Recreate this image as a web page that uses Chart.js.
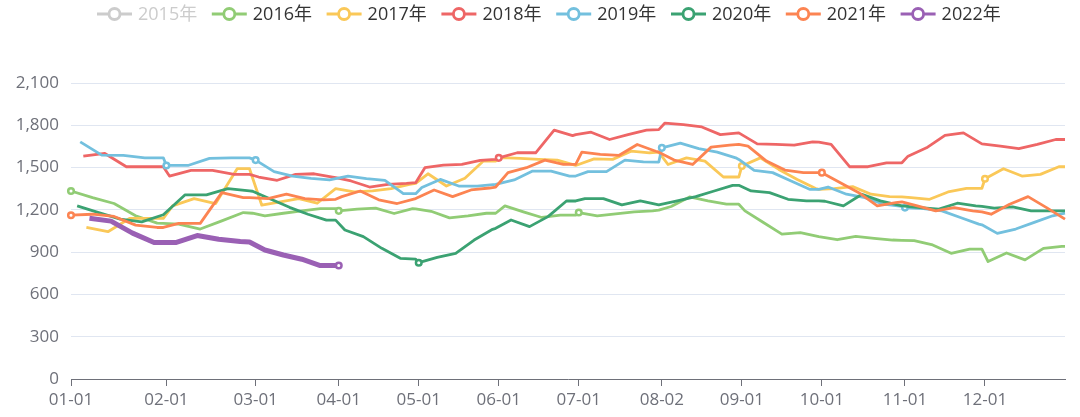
<!DOCTYPE html>
<html>
<head>
<meta charset="utf-8">
<script src="https://cdn.jsdelivr.net/npm/chart.js@4.4.1/dist/chart.umd.min.js"></script>
<style>
  html, body { margin: 0; padding: 0; background: #fff; }
  #wrap { width: 1080px; height: 417px; }
</style>
</head>
<body>
<div id="wrap"><canvas id="priceChart" width="1080" height="417"></canvas></div>
<script>
// one series per year, sampled every Friday plus the last day of each month
const seriesYears = [2015, 2016, 2017, 2018, 2019, 2020, 2021, 2022];
const seriesNames = ['2015年', '2016年', '2017年', '2018年', '2019年', '2020年', '2021年', '2022年'];
const seriesColors = ['#5470c6', '#91cc75', '#fac858', '#ee6666', '#73c0de', '#3ba272', '#fc8452', '#9a60b4'];
const hiddenNames = ['2015年'];

const values2015 = []; // switched off in the legend, nothing to read

const values2016 = [
  1334, 1287, 1245, 1158, 1106, 1104,   // jan
  1099, 1064, 1122, 1181, 1176,         // feb
  1158, 1176, 1193, 1209, 1209,         // mar
  1193, 1205, 1212, 1174, 1209, 1207,   // apr
  1190, 1143, 1158, 1176, 1176,         // may
  1228, 1186, 1146, 1162, 1162,         // jun
  1181, 1158, 1172, 1186, 1193, 1198,   // jul
  1224, 1292, 1264, 1240, 1240,         // aug
  1193, 1110, 1028, 1038, 1010,         // sep
  988, 1012, 998, 986, 984,             // oct
  981, 951, 892, 922, 922,              // nov
  833, 894, 845, 927, 941, 941          // dec
];
const values2017 = [
  1075, 1045, 1139, 1139, 1139,
  1228, 1280, 1245, 1492, 1492,
  1233, 1257, 1280, 1247, 1351,
  1327, 1334, 1351, 1381, 1388,
  1456, 1369, 1424, 1546, 1546,
  1570, 1565, 1558, 1553, 1515,
  1562, 1558, 1616, 1605, 1609,
  1522, 1569, 1546, 1433, 1433,
  1511, 1569, 1487, 1416, 1351, 1346,
  1350, 1365, 1311, 1294, 1292,
  1287, 1275, 1327, 1353, 1353,
  1421, 1492, 1440, 1452, 1506, 1506
];
const values2018 = [
  1581, 1600, 1506, 1506, 1506,
  1440, 1480, 1480, 1452, 1452,
  1433, 1410, 1452, 1456, 1433, 1428,
  1405, 1362, 1381, 1388, 1393,
  1499, 1518, 1522, 1551, 1558,
  1569, 1605, 1605, 1765, 1727, 1734,
  1751, 1699, 1734, 1765, 1769,
  1816, 1805, 1788, 1734, 1746,
  1668, 1664, 1659, 1682, 1680,
  1664, 1506, 1506, 1534, 1534,
  1581, 1640, 1729, 1746, 1668,
  1652, 1635, 1664, 1699, 1699
];
const values2019 = [
  1682, 1588, 1586, 1569, 1569,
  1515, 1515, 1565, 1569, 1569,
  1553, 1471, 1440, 1424, 1412, 1421,
  1440, 1421, 1409, 1315, 1315,
  1358, 1416, 1369, 1369, 1381,
  1412, 1475, 1475, 1440, 1440,
  1471, 1471, 1553, 1541, 1539,
  1640, 1673, 1635, 1609, 1569, 1558,
  1480, 1464, 1405, 1346, 1346,
  1362, 1311, 1287, 1240, 1224,
  1216, 1209, 1193, 1146, 1099, 1094,
  1033, 1064, 1111, 1158, 1176
];
const values2020 = [
  1228, 1180, 1134, 1115, 1165,
  1306, 1306, 1351, 1334, 1332,
  1275, 1218, 1169, 1127, 1127,
  1057, 1010, 927, 856, 851,
  825, 863, 892, 986, 1062, 1069,
  1128, 1081, 1152, 1263, 1263,
  1280, 1280, 1235, 1264, 1235,
  1264, 1294, 1334, 1374, 1374,
  1334, 1322, 1275, 1264, 1264,
  1261, 1228, 1311, 1264, 1233, 1228,
  1216, 1205, 1247, 1228, 1224,
  1212, 1221, 1193, 1193, 1193
];
const values2021 = [
  1162, 1169, 1153, 1092, 1075, 1075,
  1104, 1104, 1322, 1287, 1287,
  1280, 1311, 1280, 1271, 1275,
  1294, 1334, 1271, 1245, 1280,
  1341, 1294, 1341, 1355, 1362,
  1464, 1499, 1553, 1522, 1522,
  1609, 1593, 1586, 1664, 1616, 1609,
  1553, 1522, 1645, 1659, 1664,
  1652, 1546, 1482, 1464, 1464,
  1464, 1393, 1322, 1228, 1252, 1256,
  1228, 1193, 1216, 1193, 1186,
  1169, 1240, 1294, 1216, 1134
];
const values2022 = [
  1140, 1120, 1035, 968, 968,
  968, 1018, 992, 975, 972,
  915, 880, 850, 805, 805,
  805
];
const seriesValues = [values2015, values2016, values2017, values2018, values2019, values2020, values2021, values2022];

function mmdd(d) {
  return String(d.getUTCMonth() + 1).padStart(2, '0') + '-' + String(d.getUTCDate()).padStart(2, '0');
}

// Fridays and month ends of one year
function sampleDates(year) {
  const out = [];
  const d = new Date(Date.UTC(year, 0, 1));
  while (d.getUTCFullYear() === year) {
    const next = new Date(d.getTime() + 86400000);
    if (d.getUTCDay() === 5 || next.getUTCMonth() !== d.getUTCMonth()) out.push(mmdd(d));
    d.setTime(next.getTime());
  }
  return out;
}

const seriesDates = seriesYears.map(sampleDates);
const categories = Array.from(new Set(seriesDates.flat())).sort();

// first category of every month carries the axis label
const monthFirst = new Set(categories.filter((c, i) => i === 0 || c.slice(0, 2) !== categories[i - 1].slice(0, 2)));

const fontFamily = "'Open Sans', 'Noto Sans CJK SC', sans-serif";

const yearLegend = {
  id: 'yearLegend',
  afterDraw(chart) {
    const ctx = chart.ctx;
    const cy = 14;
    let x = 97;
    ctx.save();
    ctx.font = '18px ' + fontFamily;
    ctx.textBaseline = 'middle';
    ctx.textAlign = 'left';
    chart.data.datasets.forEach((ds, i) => {
      const off = !chart.isDatasetVisible(i);
      const col = off ? '#ccc' : ds.borderColor;
      ctx.strokeStyle = col;
      ctx.lineWidth = 2.8;
      ctx.beginPath();
      ctx.moveTo(x, cy);
      ctx.lineTo(x + 35, cy);
      ctx.stroke();
      ctx.beginPath();
      ctx.arc(x + 17.5, cy, 5.5, 0, Math.PI * 2);
      ctx.fillStyle = '#fff';
      ctx.fill();
      ctx.stroke();
      ctx.fillStyle = off ? '#ccc' : '#333';
      ctx.fillText(ds.label, x + 41, cy + 1);
      x += 114.8;
    });
    ctx.restore();
  }
};

Chart.defaults.font.family = fontFamily;

new Chart(document.getElementById('priceChart'), {
  type: 'line',
  data: {
    labels: categories,
    datasets: seriesNames.map((name, i) => ({
      label: name,
      data: seriesValues[i].map((v, k) => ({ x: seriesDates[i][k], y: v })),
      borderColor: seriesColors[i],
      backgroundColor: seriesColors[i],
      borderWidth: name === '2022年' ? 5 : 2.8,
      borderJoinStyle: 'round',
      tension: 0,
      pointRadius: ctx => (ctx.raw && monthFirst.has(ctx.raw.x)) ? 2.8 : 0,
      pointHoverRadius: 0,
      pointBackgroundColor: '#fff',
      pointBorderColor: seriesColors[i],
      pointBorderWidth: 2.5,
      hidden: hiddenNames.includes(name),
      order: seriesNames.length - i
    }))
  },
  options: {
    responsive: false,
    devicePixelRatio: 1,
    animation: false,
    layout: { padding: { top: 83, right: 15, left: 0, bottom: 0 } },
    plugins: {
      legend: { display: false },
      tooltip: { enabled: false }
    },
    scales: {
      x: {
        type: 'category',
        offset: false,
        afterBuildTicks(scale) {
          scale.ticks = scale.ticks.filter(t => monthFirst.has(categories[t.value]));
        },
        afterFit(scale) { scale.height = 38; },
        grid: { drawOnChartArea: false, tickLength: 7, color: '#6e7079' },
        border: { color: '#6e7079', width: 1 },
        ticks: {
          autoSkip: false,
          maxRotation: 0,
          padding: 4,
          color: '#6e7079',
          font: { size: 17 },
          callback: v => categories[v]
        }
      },
      y: {
        min: 0,
        max: 2100,
        afterFit(scale) { scale.width = 71; },
        grid: { color: '#e0e6f1', drawTicks: false },
        border: { display: false },
        ticks: {
          stepSize: 300,
          padding: 12,
          color: '#6e7079',
          font: { size: 17 },
          callback: v => v.toLocaleString('en-US')
        }
      }
    }
  },
  plugins: [yearLegend]
});
</script>
</body>
</html>
